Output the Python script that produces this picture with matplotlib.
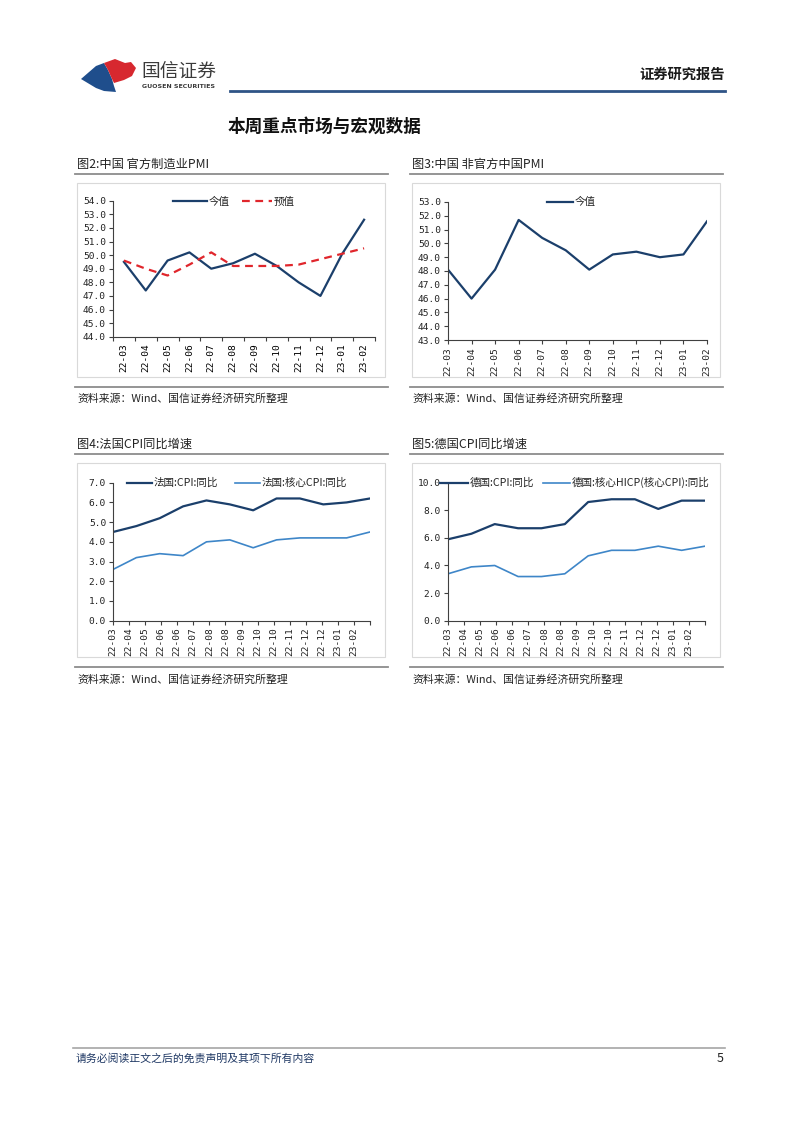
import numpy as np
import matplotlib
matplotlib.use("Agg")
import matplotlib.pyplot as plt
from matplotlib.patches import Rectangle, Polygon
from matplotlib.lines import Line2D

plt.rcParams['font.family'] = ['Noto Sans CJK SC', 'DejaVu Sans']

# ---------------- data ----------------
months = ["22-03", "22-04", "22-05", "22-06", "22-07", "22-08",
          "22-09", "22-10", "22-11", "22-12", "23-01", "23-02"]
pmi_actual = [49.5, 47.4, 49.6, 50.2, 49.0, 49.4, 50.1, 49.2, 48.0, 47.0, 50.1, 52.6]
pmi_expect = [49.6, 49.0, 48.5, 49.3, 50.2, 49.2, 49.2, 49.2, 49.3, 49.7, 50.1, 50.5]
caixin_pmi = [48.1, 46.0, 48.1, 51.7, 50.4, 49.5, 48.1, 49.2, 49.4, 49.0, 49.2, 51.6]
fr_cpi = [4.5, 4.8, 5.2, 5.8, 6.1, 5.9, 5.6, 6.2, 6.2, 5.9, 6.0, 6.2]
fr_core = [2.6, 3.2, 3.4, 3.3, 4.0, 4.1, 3.7, 4.1, 4.2, 4.2, 4.2, 4.5]
de_cpi = [5.9, 6.3, 7.0, 6.7, 6.7, 7.0, 8.6, 8.8, 8.8, 8.1, 8.7, 8.7]
de_core = [3.4, 3.9, 4.0, 3.2, 3.2, 3.4, 4.7, 5.1, 5.1, 5.4, 5.1, 5.4]
cpi_ticklabels = ["22-03", "22-04", "22-05", "22-06", "22-06", "22-07", "22-08", "22-08",
                  "22-09", "22-10", "22-10", "22-11", "22-12", "22-12", "23-01", "23-02"]

NAVY = "#1B3F6B"
LBLUE = "#3E86C8"
RED = "#E0262C"
AXC = "#404040"
NUMFONT = "DejaVu Sans Mono"

W, H = 802, 1133
fig = plt.figure(figsize=(W / 100, H / 100), dpi=100)
fig.patch.set_facecolor("white")


def fx(x):
    return x / W


def fy(y):
    return 1 - y / H


def px_axes(x0, y0, x1, y1):
    return fig.add_axes([fx(x0), fy(y1), (x1 - x0) / W, (y1 - y0) / H])


def ftext(x, y, s, **kw):
    fig.text(fx(x), fy(y), s, **kw)


def fline(x0, x1, y0, y1, **kw):
    fig.add_artist(Line2D([fx(x0), fx(x1)], [fy(y0), fy(y1)], transform=fig.transFigure, **kw))


def frect(x0, y0, x1, y1, **kw):
    fig.add_artist(Rectangle((fx(x0), fy(y1)), (x1 - x0) / W, (y1 - y0) / H,
                             transform=fig.transFigure, **kw))


# ---------------- header ----------------
blue_logo = [(81, 79), (96, 66), (104, 63), (108, 70), (112, 79), (114, 86), (116, 92),
             (104, 91), (96, 88)]
red_logo = [(104, 63), (115, 59), (125, 63), (131, 62), (136, 68), (132, 76), (124, 80),
            (114, 83), (112, 79), (108, 70)]
fig.add_artist(Polygon([(fx(a), fy(b)) for a, b in blue_logo], closed=True,
                       transform=fig.transFigure, facecolor="#1F4E8C", edgecolor="none"))
fig.add_artist(Polygon([(fx(a), fy(b)) for a, b in red_logo], closed=True,
                       transform=fig.transFigure, facecolor="#D7282F", edgecolor="none"))
ftext(141, 71, "国信证券", fontsize=13.5, color="#3A3A3A", va="center", ha="left")
ftext(142, 86.5, "GUOSEN SECURITIES", fontsize=4.5, color="#3A3A3A", va="center", ha="left",
      fontweight="bold", family="DejaVu Sans")
ftext(725, 75, "证券研究报告", fontsize=10.3, fontweight="bold", color="#1A1A1A",
      va="center", ha="right")
fline(230, 725, 91, 91, color="#2F5486", lw=2.0)
ftext(228, 127, "本周重点市场与宏观数据", fontsize=12.7, fontweight="bold", color="#111111",
      va="center", ha="left")

# ---------------- panel decorations ----------------
def panel_frame(xl, xr, ytitle, title, yframe_top, yframe_bot, ysrc_line, ysrc):
    ftext(xl + 2, ytitle, title, fontsize=8.8, color="#222222", va="center", ha="left")
    fline(xl, xr, ytitle + 9.5, ytitle + 9.5, color="#8C8C8C", lw=1.3)
    frect(xl + 2, yframe_top, xr - 3, yframe_bot, facecolor="none", edgecolor="#D9D9D9", lw=0.8)
    fline(xl, xr, ysrc_line, ysrc_line, color="#8C8C8C", lw=1.3)
    ftext(xl + 2, ysrc, "资料来源：Wind、国信证券经济研究所整理", fontsize=7.8, color="#222222",
          va="center", ha="left")


panel_frame(75, 388, 164.5, "图2:中国 官方制造业PMI", 183, 377, 387, 398)
panel_frame(410, 723, 164.5, "图3:中国 非官方中国PMI", 183, 377, 387, 398)
panel_frame(75, 388, 444.5, "图4:法国CPI同比增速", 463, 657, 667, 679)
panel_frame(410, 723, 444.5, "图5:德国CPI同比增速", 463, 657, 667, 679)


def style_axes(ax):
    for s in ["top", "right"]:
        ax.spines[s].set_visible(False)
    for s in ["left", "bottom"]:
        ax.spines[s].set_color(AXC)
        ax.spines[s].set_linewidth(0.8)
    ax.tick_params(axis="both", which="major", direction="out", color=AXC, width=0.8,
                   length=3, labelsize=6.8, labelcolor="#222222", pad=2)
    ax.set_facecolor("none")
    for lab in ax.get_yticklabels() + ax.get_xticklabels() + ax.get_xticklabels(minor=True):
        lab.set_family(NUMFONT)


def legend_item(x0, x1, y, text, color, lw, ls="-"):
    fline(x0, x1, y, y, color=color, lw=lw, ls=ls)
    ftext(x1 + 2, y, text, fontsize=7.6, color="#222222", va="center", ha="left")


# ---------------- chart 1: official PMI ----------------
x = np.arange(len(months))
ax1 = px_axes(113, 200.7, 375, 336.7)
ax1.plot(x, pmi_actual, color=NAVY, lw=1.6)
ax1.plot(x, pmi_expect, color=RED, lw=1.6, ls=(0, (3.5, 2.5)))
ax1.set_xlim(-0.5, len(months) - 0.5)
ax1.set_ylim(44, 54)
ax1.set_yticks(np.arange(44, 54.1, 1))
ax1.set_yticklabels([f"{v:.1f}" for v in np.arange(44, 54.1, 1)])
ax1.set_xticks(np.arange(-0.5, len(months), 1.0))
ax1.set_xticklabels([])
ax1.set_xticks(x, minor=True)
ax1.set_xticklabels(months, minor=True, rotation=90)
ax1.tick_params(axis="x", which="minor", length=0, labelsize=6.8, pad=5)
style_axes(ax1)
legend_item(173, 207, 201.5, "今值", NAVY, 1.6)
legend_item(242, 272, 201.5, "预值", RED, 1.6, ls=(0, (3.5, 2.5)))

# ---------------- chart 2: Caixin PMI ----------------
ax2 = px_axes(448, 202, 707, 340)
ax2.plot(x, caixin_pmi, color=NAVY, lw=1.6)
ax2.set_xlim(0, len(months) - 1)
ax2.set_ylim(43, 53)
ax2.set_yticks(np.arange(43, 53.1, 1))
ax2.set_yticklabels([f"{v:.1f}" for v in np.arange(43, 53.1, 1)])
ax2.set_xticks(x)
ax2.set_xticklabels(months, rotation=90)
style_axes(ax2)
ax2.tick_params(axis="x", pad=2)
legend_item(547, 573, 202, "今值", NAVY, 1.6)

# ---------------- chart 3: France CPI ----------------
cpi_ticks = np.linspace(0, len(months) - 1, len(cpi_ticklabels) + 1)
ax3 = px_axes(113, 482.7, 370, 620.7)
ax3.plot(x, fr_cpi, color=NAVY, lw=1.6)
ax3.plot(x, fr_core, color=LBLUE, lw=1.2)
ax3.set_xlim(0, len(months) - 1)
ax3.set_ylim(0, 7)
ax3.set_yticks(np.arange(0, 7.1, 1))
ax3.set_yticklabels([f"{v:.1f}" for v in np.arange(0, 7.1, 1)])
ax3.set_xticks(cpi_ticks)
ax3.set_xticklabels(cpi_ticklabels + [""], rotation=90)
style_axes(ax3)
legend_item(127, 152, 482.7, "法国:CPI:同比", NAVY, 1.6)
legend_item(235, 260, 482.7, "法国:核心CPI:同比", LBLUE, 1.2)

# ---------------- chart 4: Germany CPI ----------------
ax4 = px_axes(448, 482.7, 705, 620.7)
ax4.plot(x, de_cpi, color=NAVY, lw=1.6)
ax4.plot(x, de_core, color=LBLUE, lw=1.2)
ax4.set_xlim(0, len(months) - 1)
ax4.set_ylim(0, 10)
ax4.set_yticks(np.arange(0, 10.1, 2))
ax4.set_yticklabels([f"{v:.1f}" for v in np.arange(0, 10.1, 2)])
ax4.set_xticks(cpi_ticks)
ax4.set_xticklabels(cpi_ticklabels + [""], rotation=90)
style_axes(ax4)
legend_item(440, 468, 482.7, "德国:CPI:同比", NAVY, 1.6)
legend_item(543, 570, 482.7, "德国:核心HICP(核心CPI):同比", LBLUE, 1.2)

# ---------------- footer ----------------
fline(73, 725, 1048, 1048, color="#A6A6A6", lw=1.2)
ftext(76, 1058, "请务必阅读正文之后的免责声明及其项下所有内容", fontsize=7.8,
      color="#1F3864", style="italic", va="center", ha="left")
ftext(724, 1058, "5", fontsize=9, color="#222222", va="center", ha="right")

fig.savefig("out.png", dpi=100, facecolor="white")
